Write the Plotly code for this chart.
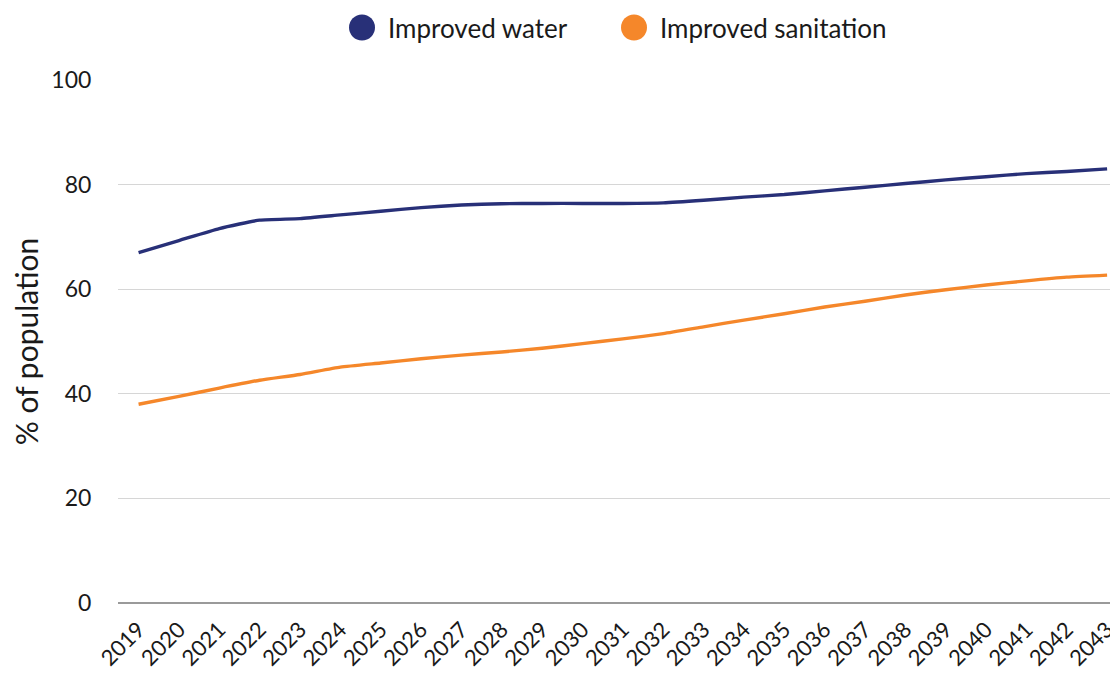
import plotly.graph_objects as go

years = list(range(2019, 2044))
year_labels = [str(y) for y in years]
water = [67.0, 69.3, 71.6, 73.2, 73.5, 74.2, 74.9, 75.6, 76.1, 76.35, 76.4, 76.4, 76.4,
         76.5, 77.0, 77.6, 78.1, 78.8, 79.5, 80.2, 80.9, 81.5, 82.1, 82.5, 83.0]
sanitation = [38.0, 39.5, 41.1, 42.6, 43.7, 45.1, 45.9, 46.7, 47.4, 48.0, 48.7, 49.6, 50.5,
              51.5, 52.8, 54.1, 55.3, 56.6, 57.7, 58.9, 59.9, 60.8, 61.6, 62.3, 62.7]
series_names = ["Improved water", "Improved sanitation"]
series_colors = ["#283078", "#f5872a"]
y_ticks = [0, 20, 40, 60, 80, 100]

FONT = "Lato, 'Open Sans', sans-serif"

# page body has an 8px margin, so the figure is drawn 8px smaller and everything offset
OFF = 8
W, H = 1118 - OFF, 674 - OFF
L, T, B_EDGE, R_EDGE = 118 - OFF, 79.5 - OFF, 603 - OFF, 1118 - OFF
PW, PH = R_EDGE - L, B_EDGE - T

fig = go.Figure()
for name, vals, col in zip(series_names, [water, sanitation], series_colors):
    fig.add_trace(go.Scatter(x=years, y=vals, mode="lines", name=name,
                             line=dict(color=col, width=3.4, shape="spline", smoothing=0.5),
                             showlegend=False))

# manual legend (large circular markers)
legend_x = [362 - OFF, 634 - OFF]
legend_y = 27 - OFF
shapes = []
annotations = []
for name, col, lx in zip(series_names, series_colors, legend_x):
    shapes.append(dict(type="circle", xref="paper", yref="paper",
                       xsizemode="pixel", ysizemode="pixel",
                       xanchor=(lx - L) / PW, yanchor=1 + (T - legend_y) / PH,
                       x0=-13, x1=13, y0=-13, y1=13,
                       fillcolor=col, line=dict(width=0)))
    annotations.append(dict(text=name, xref="paper", yref="paper",
                            x=(lx + 24 - L) / PW, y=1 + (T - legend_y) / PH,
                            xanchor="left", yanchor="middle", showarrow=False,
                            font=dict(family=FONT, size=26, color="#1a1a1a")))

fig.update_layout(
    width=W, height=H,
    margin=dict(l=L, r=W - R_EDGE, t=T, b=H - B_EDGE, pad=0, autoexpand=False),
    paper_bgcolor="white", plot_bgcolor="white",
    font=dict(family=FONT, color="#1a1a1a"),
    shapes=shapes, annotations=annotations,
    xaxis=dict(range=[2018.49, 2043.27], tickvals=years, ticktext=year_labels,
               tickangle=-45, tickfont=dict(size=22, family=FONT, color="#1a1a1a"),
               ticklabeloverflow="allow", automargin=False,
               showgrid=False, zeroline=False, showline=False,
               ticks="outside", ticklen=4, tickcolor="rgba(0,0,0,0)"),
    yaxis=dict(range=[0, 100], tickvals=y_ticks, ticktext=[str(v) for v in y_ticks],
               tickfont=dict(size=23, family=FONT, color="#1a1a1a"), automargin=False,
               showgrid=True, gridcolor="#d6d6d6", gridwidth=1.2,
               zeroline=True, zerolinecolor="#9a9a9a", zerolinewidth=1.5,
               showline=False, ticks="outside", ticklen=21, tickcolor="rgba(0,0,0,0)",
               title=dict(text="% of population", font=dict(size=30, family=FONT, color="#1a1a1a"),
                          standoff=6)),
)
fig.write_html("out.html")
